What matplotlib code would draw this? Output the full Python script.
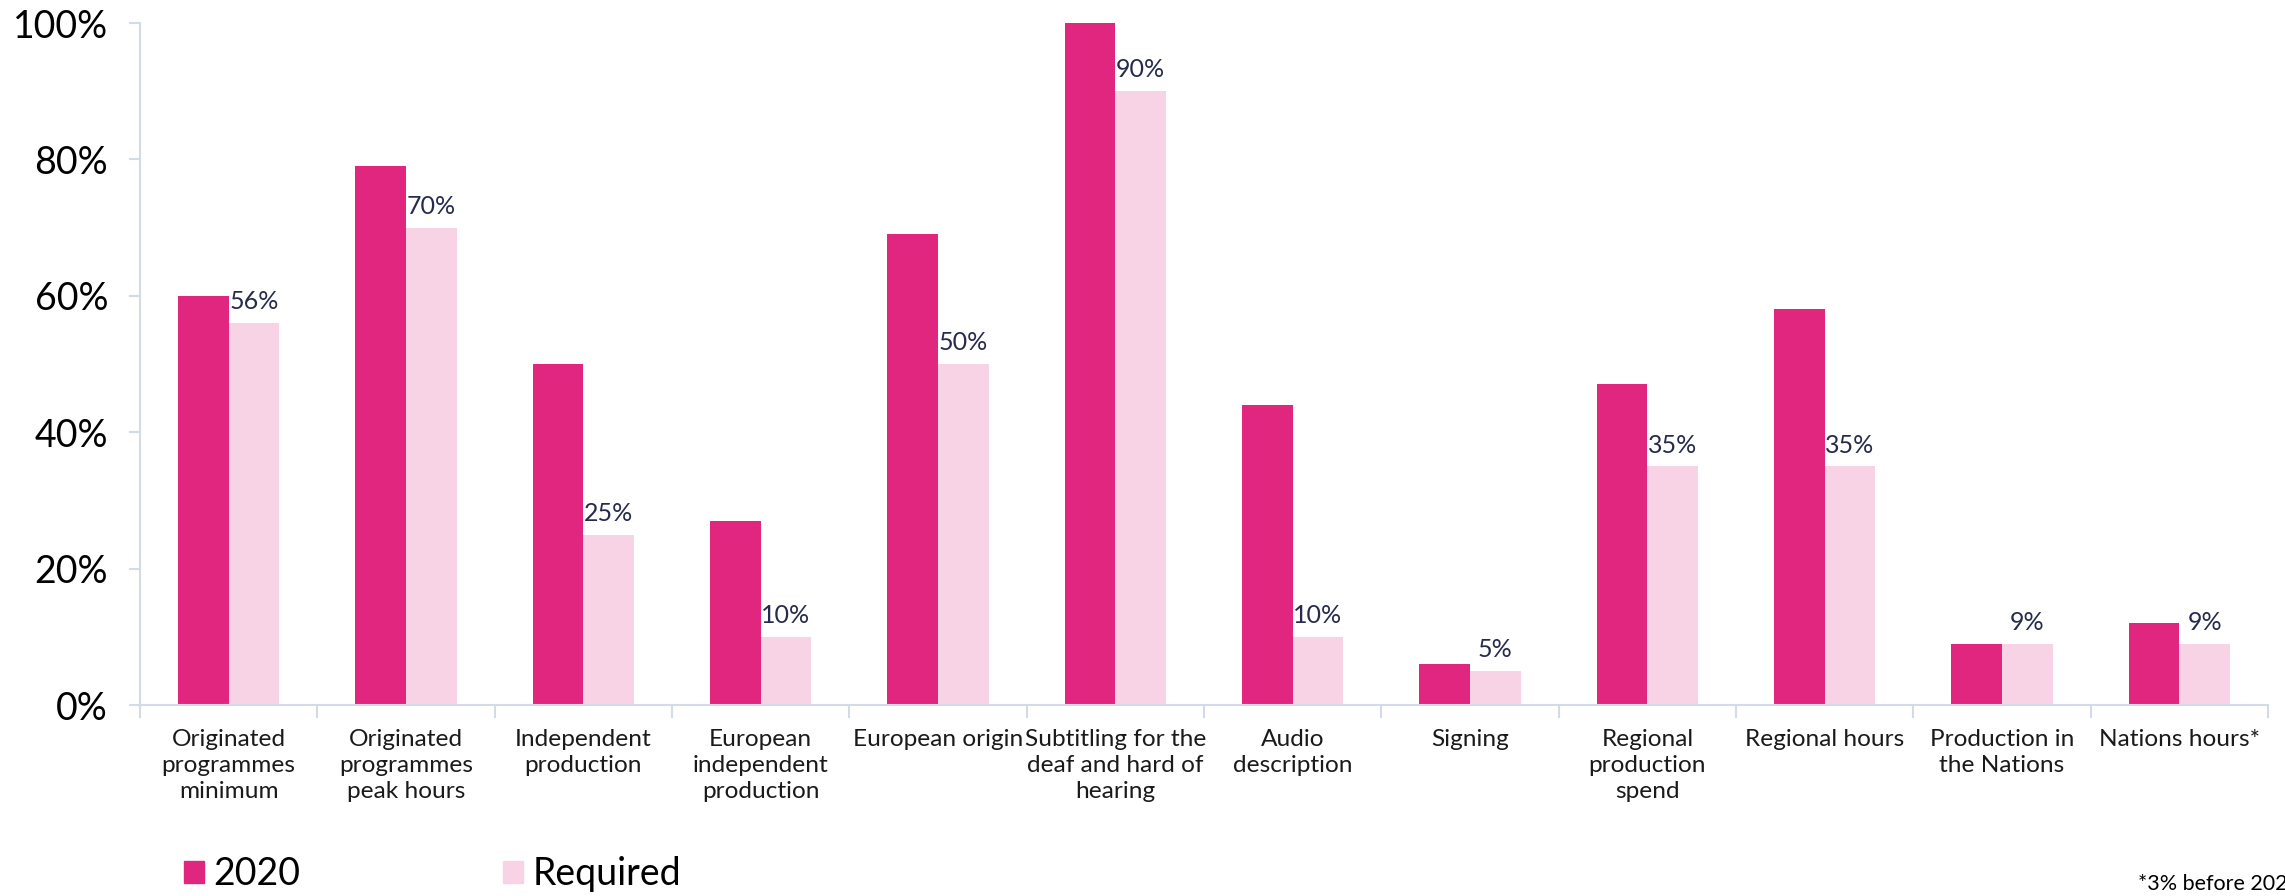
import matplotlib.pyplot as plt
import numpy as np
from matplotlib.patches import Patch
from matplotlib.ticker import FixedLocator

plt.rcParams['font.family'] = ['Lato', 'DejaVu Sans']

categories = ["Originated\nprogrammes\nminimum", "Originated\nprogrammes\npeak hours",
              "Independent\nproduction", "European\nindependent\nproduction",
              "European origin", "Subtitling for the\ndeaf and hard of\nhearing",
              "Audio\ndescription", "Signing", "Regional\nproduction\nspend",
              "Regional hours", "Production in\nthe Nations", "Nations hours*"]
actual_2020 = [60, 79, 50, 27, 69, 100, 44, 6, 47, 58, 9, 12]
required = [56, 70, 25, 10, 50, 90, 10, 5, 35, 35, 9, 9]
yticks = [0, 20, 40, 60, 80, 100]

c2020 = '#e0267f'
creq = '#f8d3e6'
axcol = '#d3dae8'

fig = plt.figure(figsize=(22.85, 8.96), dpi=100)
ax = fig.add_axes([140/2285, 1-705/896, (2268-140)/2285, (705-23)/896])

x = np.arange(len(categories))
w = 0.285
ax.bar(x - w/2, actual_2020, w, color=c2020, label='2020')
ax.bar(x + w/2, required, w, color=creq, label='Required')

# labels only on the required bars
for xi, v in zip(x, required):
    ax.annotate(f'{v}%', (xi + w/2, v), xytext=(0, 7), textcoords='offset points',
                ha='center', va='bottom', fontsize=18, color='#262b4d')

ax.set_xlim(-0.5, len(categories) - 0.5)
ax.set_ylim(0, 100)
ax.set_yticks(yticks)
ax.set_yticklabels([f'{t}%' for t in yticks], fontsize=27)
ax.set_xticks(x)
ax.set_xticklabels(categories, fontsize=17.6, linespacing=1.3, color='#1a1a1a')
ax.xaxis.set_minor_locator(FixedLocator(np.arange(-0.5, len(categories), 1)))
ax.tick_params(axis='x', which='major', length=0, pad=17)
ax.tick_params(axis='x', which='minor', length=9, width=1.5, color=axcol)
ax.tick_params(axis='y', length=8, width=1.5, color=axcol, pad=15)

for s in ['top', 'right']:
    ax.spines[s].set_visible(False)
for s in ['left', 'bottom']:
    ax.spines[s].set_color(axcol)
    ax.spines[s].set_linewidth(1.5)

handles = [Patch(color=c2020, label='2020'), Patch(color=creq, label='Required')]
fig.legend(handles=handles, loc='center left', bbox_to_anchor=(184/2285, 0.024),
           ncol=2, frameon=False, fontsize=27, handlelength=0.53, handleheight=0.53,
           handletextpad=0.26, columnspacing=5.4, borderpad=0, borderaxespad=0)

fig.text(2138/2285, 1-890/896, '*3% before 2020', fontsize=15.5, va='baseline', ha='left')

fig.savefig('out.png', dpi=100)
